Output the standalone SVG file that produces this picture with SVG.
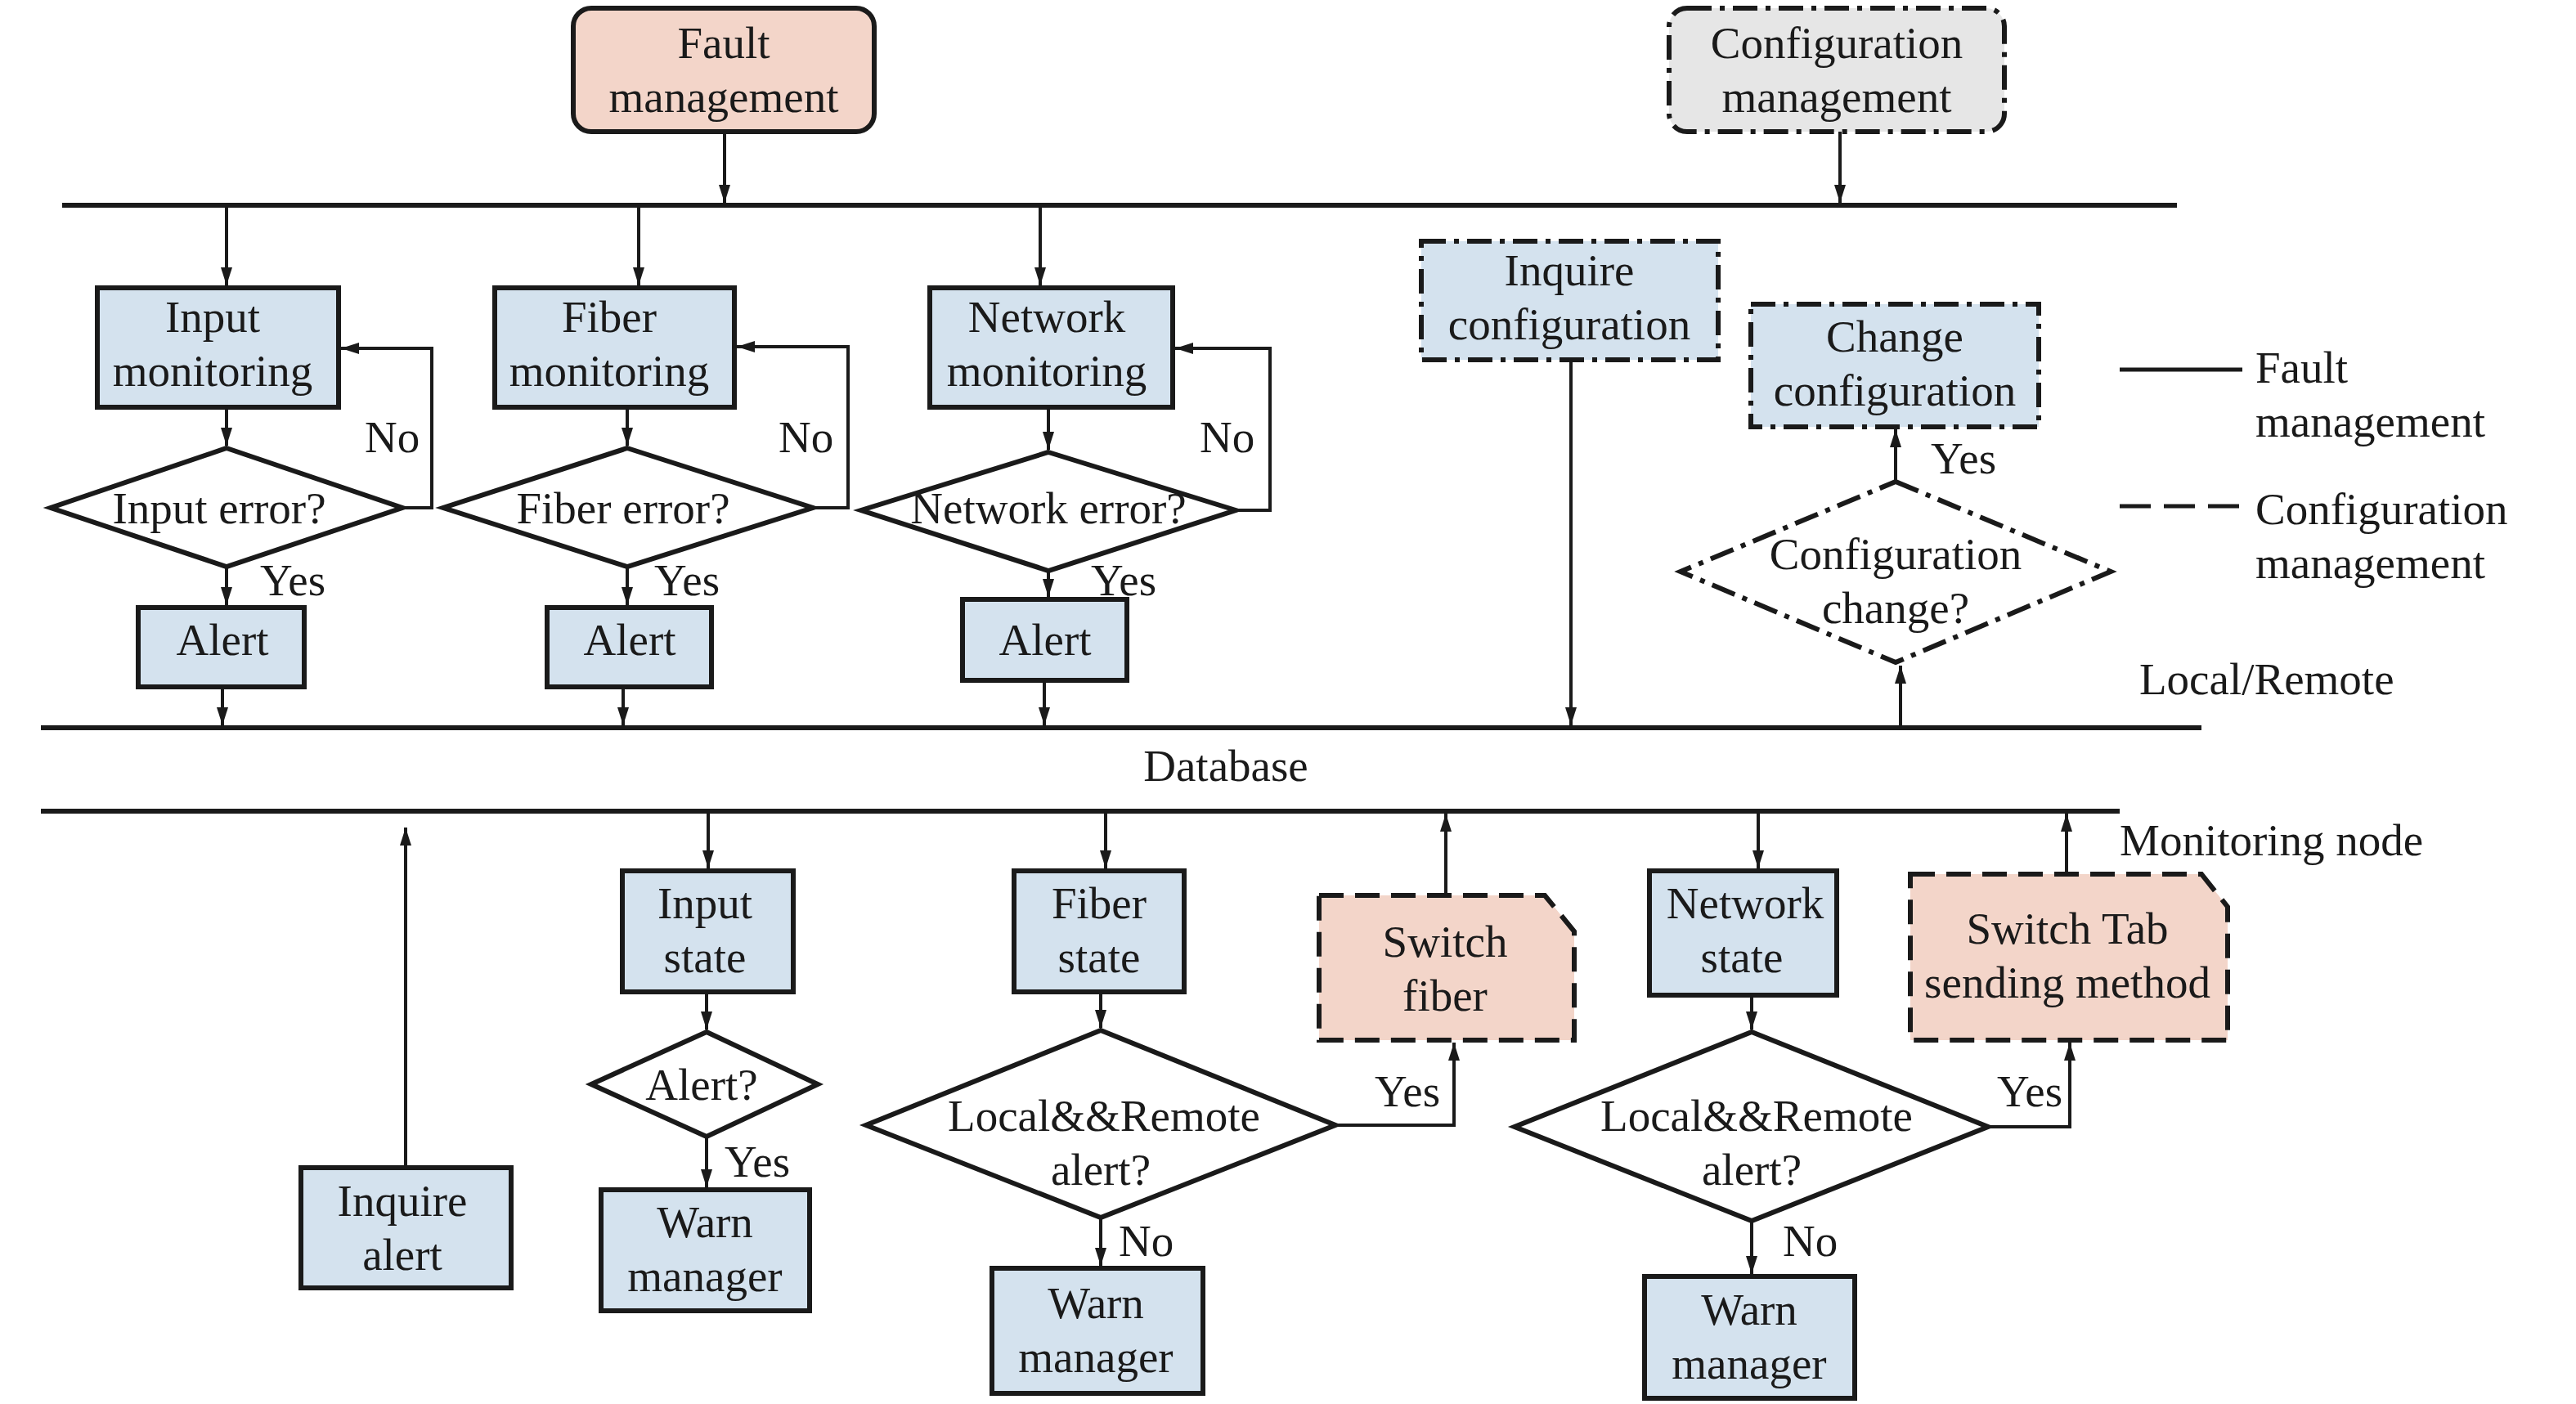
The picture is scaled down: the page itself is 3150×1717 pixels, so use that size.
<svg xmlns="http://www.w3.org/2000/svg" width="3150" height="1717" viewBox="0 0 3150 1717">
<style>
text{font-family:"Liberation Serif","Times New Roman",serif;font-size:55px;fill:#1a1a1a}
.c{text-anchor:middle}
.box{fill:#d4e2ee;stroke:#1a1a1a;stroke-width:6}
.pink{fill:#f3d5c9}
.gray{fill:#e6e6e6}
.dia{fill:#fff;stroke:#1a1a1a;stroke-width:6}
.dd{stroke-dasharray:30 10 6 10}
.dash{stroke-dasharray:30 14}
.bus{stroke:#1a1a1a;stroke-width:6;fill:none}
.cn{stroke:#1a1a1a;stroke-width:4;fill:none;marker-end:url(#ah)}
.ln{stroke:#1a1a1a;stroke-width:5;fill:none}
</style>
<defs>
<marker id="ah" markerUnits="userSpaceOnUse" markerWidth="24" markerHeight="14" refX="22" refY="7" orient="auto">
<path d="M0,0 L22,7 L0,14 z" fill="#1a1a1a"/>
</marker>
</defs>
<rect width="3150" height="1717" fill="#fff"/>

<g id="buses">
<line class="bus" x1="76" y1="251" x2="2662" y2="251"/>
<line class="bus" x1="50" y1="890" x2="2692" y2="890"/>
<line class="bus" x1="50" y1="992" x2="2592" y2="992"/>
</g>

<g id="connectors">
<path class="cn" d="M886,161 V248"/>
<path class="cn" d="M2250,161 V248"/>
<path class="cn" d="M277,254 V349"/>
<path class="cn" d="M781,254 V349"/>
<path class="cn" d="M1272,254 V349"/>
<path class="cn" d="M277,498 V545"/>
<path class="cn" d="M767,498 V545"/>
<path class="cn" d="M1282,498 V550"/>
<path class="cn" d="M277,693 V740"/>
<path class="cn" d="M767,693 V740"/>
<path class="cn" d="M1282,698 V730"/>
<path class="cn" d="M272,840 V887"/>
<path class="cn" d="M762,840 V887"/>
<path class="cn" d="M1277,832 V887"/>
<path class="cn" d="M492,621 H528 V426 H417"/>
<path class="cn" d="M994,621 H1037 V424 H901"/>
<path class="cn" d="M1511,624 H1553 V426 H1437"/>
<path class="cn" d="M1921,440 V887"/>
<path class="cn" d="M2324,887 V814"/>
<path class="cn" d="M2318,589 V525"/>
<path class="cn" d="M496,1428 V1012"/>
<path class="cn" d="M866,995 V1062"/>
<path class="cn" d="M864,1213 V1259"/>
<path class="cn" d="M864,1390 V1452"/>
<path class="cn" d="M1352,995 V1062"/>
<path class="cn" d="M1346,1213 V1257"/>
<path class="cn" d="M1346,1489 V1548"/>
<path class="cn" d="M1633,1376 H1778 V1275"/>
<path class="cn" d="M1768,1095 V995"/>
<path class="cn" d="M2150,995 V1062"/>
<path class="cn" d="M2142,1217 V1259"/>
<path class="cn" d="M2142,1493 V1558"/>
<path class="cn" d="M2431,1378 H2531 V1275"/>
<path class="cn" d="M2527,1069 V995"/>
</g>

<g id="fault-management">
<rect class="box pink" x="701" y="10" width="368" height="151" rx="22"/>
<text class="c" x="885" y="71">Fault</text>
<text class="c" x="885" y="137">management</text>
</g>
<g id="configuration-management">
<rect class="box gray dd" x="2041" y="10" width="410" height="151" rx="22"/>
<text class="c" x="2246" y="71">Configuration</text>
<text class="c" x="2246" y="137">management</text>
</g>

<g id="input-monitoring">
<rect class="box" x="119" y="352" width="295" height="146"/>
<text class="c" x="260" y="406">Input</text>
<text class="c" x="260" y="472">monitoring</text>
</g>
<g id="fiber-monitoring">
<rect class="box" x="605" y="352" width="293" height="146"/>
<text class="c" x="745" y="406">Fiber</text>
<text class="c" x="745" y="472">monitoring</text>
</g>
<g id="network-monitoring">
<rect class="box" x="1137" y="352" width="297" height="146"/>
<text class="c" x="1280" y="406">Network</text>
<text class="c" x="1280" y="472">monitoring</text>
</g>

<g id="input-error">
<polygon class="dia" points="277,548 492,621 277,693 62,621"/>
<text class="c" x="268" y="640">Input error?</text>
</g>
<g id="fiber-error">
<polygon class="dia" points="767,548 994,621 767,693 542,621"/>
<text class="c" x="762" y="640">Fiber error?</text>
</g>
<g id="network-error">
<polygon class="dia" points="1282,553 1511,624 1282,698 1053,624"/>
<text class="c" x="1282" y="640">Network error?</text>
</g>

<g id="alert-1">
<rect class="box" x="169" y="743" width="203" height="97"/>
<text class="c" x="272" y="801">Alert</text>
</g>
<g id="alert-2">
<rect class="box" x="669" y="743" width="201" height="97"/>
<text class="c" x="770" y="801">Alert</text>
</g>
<g id="alert-3">
<rect class="box" x="1177" y="733" width="201" height="99"/>
<text class="c" x="1278" y="801">Alert</text>
</g>

<g id="labels-top">
<text x="446" y="553">No</text>
<text x="952" y="553">No</text>
<text x="1467" y="553">No</text>
<text x="318" y="728">Yes</text>
<text x="800" y="728">Yes</text>
<text x="1334" y="728">Yes</text>
<text x="2361" y="579">Yes</text>
</g>

<g id="inquire-configuration">
<rect class="box dd" x="1738" y="295" width="363" height="145"/>
<text class="c" x="1919" y="349">Inquire</text>
<text class="c" x="1919" y="415">configuration</text>
</g>
<g id="change-configuration">
<rect class="box dd" x="2141" y="372" width="352" height="150"/>
<text class="c" x="2317" y="430">Change</text>
<text class="c" x="2317" y="496">configuration</text>
</g>
<g id="configuration-change">
<polygon class="dia dd" points="2318,589 2581,699 2318,810 2055,699"/>
<text class="c" x="2318" y="696">Configuration</text>
<text class="c" x="2318" y="762">change?</text>
</g>

<g id="legend">
<line class="ln" x1="2592" y1="452" x2="2742" y2="452"/>
<text x="2758" y="468">Fault</text>
<text x="2758" y="534">management</text>
<line class="ln" x1="2592" y1="619" x2="2750" y2="619" stroke-dasharray="38 16"/>
<text x="2758" y="641">Configuration</text>
<text x="2758" y="707">management</text>
<text x="2616" y="849">Local/Remote</text>
<text class="c" x="1499" y="955">Database</text>
<text x="2592" y="1046">Monitoring node</text>
</g>

<g id="inquire-alert">
<rect class="box" x="368" y="1428" width="257" height="147"/>
<text class="c" x="492" y="1487">Inquire</text>
<text class="c" x="492" y="1553">alert</text>
</g>

<g id="input-state">
<rect class="box" x="761" y="1065" width="209" height="148"/>
<text class="c" x="862" y="1123">Input</text>
<text class="c" x="862" y="1189">state</text>
</g>
<g id="alert-q">
<polygon class="dia" points="864,1262 1000,1326 864,1390 723,1326"/>
<text class="c" x="858" y="1345">Alert?</text>
</g>
<g id="warn-manager-1">
<rect class="box" x="735" y="1455" width="255" height="148"/>
<text class="c" x="862" y="1513">Warn</text>
<text class="c" x="862" y="1579">manager</text>
</g>

<g id="fiber-state">
<rect class="box" x="1240" y="1065" width="208" height="148"/>
<text class="c" x="1344" y="1123">Fiber</text>
<text class="c" x="1344" y="1189">state</text>
</g>
<g id="local-remote-1">
<polygon class="dia" points="1346,1260 1633,1376 1346,1489 1059,1376"/>
<text class="c" x="1350" y="1383">Local&amp;&amp;Remote</text>
<text class="c" x="1346" y="1449">alert?</text>
</g>
<g id="warn-manager-2">
<rect class="box" x="1213" y="1551" width="258" height="153"/>
<text class="c" x="1340" y="1612">Warn</text>
<text class="c" x="1340" y="1678">manager</text>
</g>
<g id="switch-fiber">
<path class="box pink dash" d="M1613,1095 H1889 L1925,1139 V1272 H1613 Z"/>
<text class="c" x="1767" y="1170">Switch</text>
<text class="c" x="1767" y="1236">fiber</text>
</g>

<g id="network-state">
<rect class="box" x="2017" y="1065" width="229" height="152"/>
<text class="c" x="2134" y="1123">Network</text>
<text class="c" x="2130" y="1189">state</text>
</g>
<g id="local-remote-2">
<polygon class="dia" points="2142,1262 2431,1378 2142,1493 1852,1378"/>
<text class="c" x="2148" y="1383">Local&amp;&amp;Remote</text>
<text class="c" x="2142" y="1449">alert?</text>
</g>
<g id="warn-manager-3">
<rect class="box" x="2011" y="1561" width="257" height="149"/>
<text class="c" x="2139" y="1620">Warn</text>
<text class="c" x="2139" y="1686">manager</text>
</g>
<g id="switch-tab">
<path class="box pink dash" d="M2336,1069 H2692 L2724,1109 V1272 H2336 Z"/>
<text class="c" x="2528" y="1154">Switch Tab</text>
<text class="c" x="2528" y="1220">sending method</text>
</g>

<g id="labels-bottom">
<text x="886" y="1439">Yes</text>
<text x="1368" y="1536">No</text>
<text x="1681" y="1353">Yes</text>
<text x="2180" y="1536">No</text>
<text x="2442" y="1353">Yes</text>
</g>
</svg>
